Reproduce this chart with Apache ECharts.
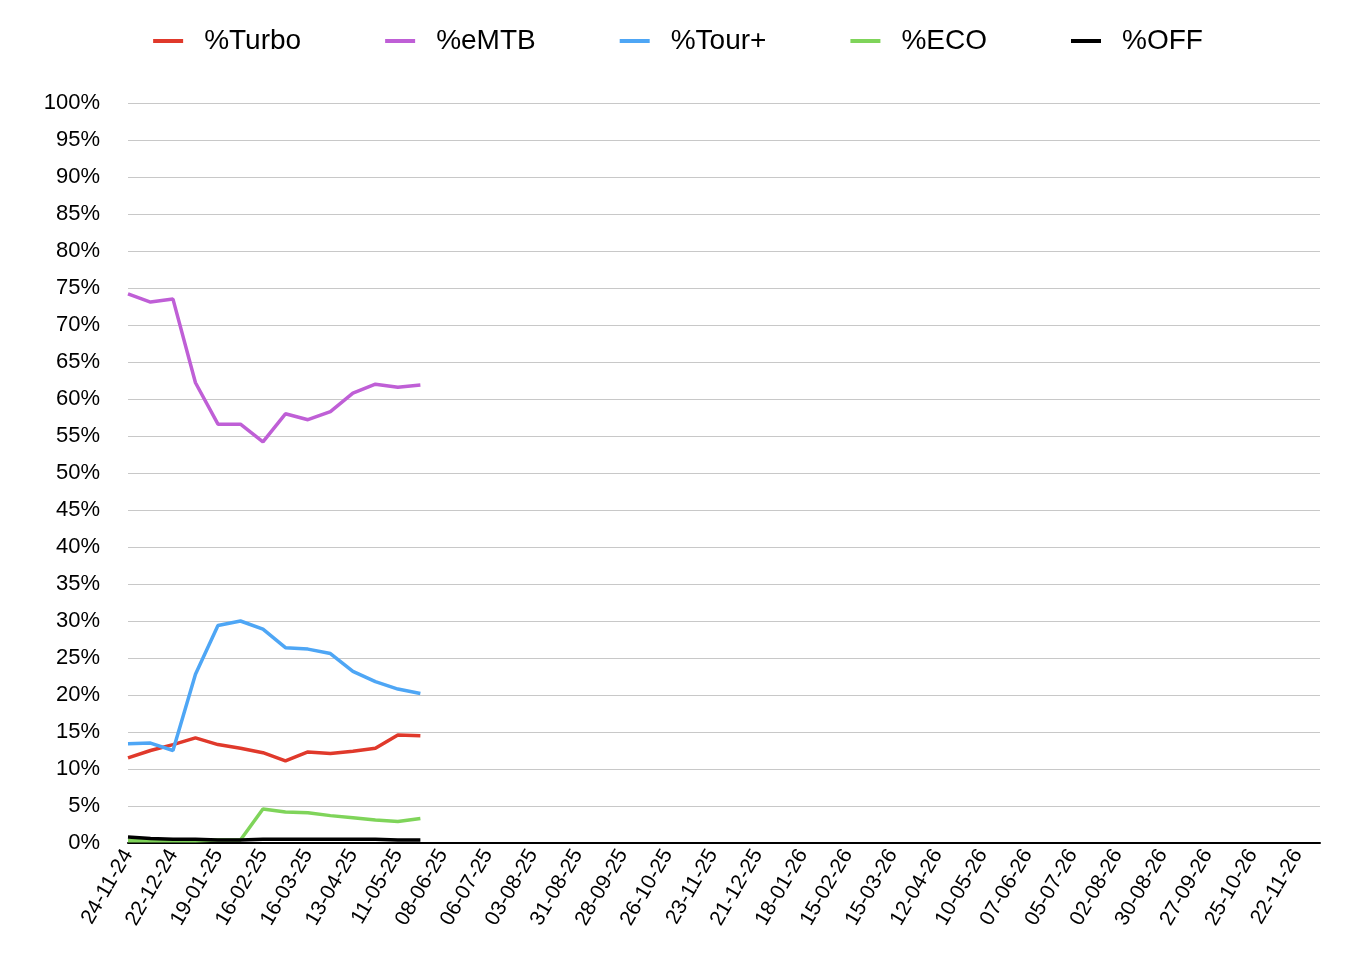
<!DOCTYPE html>
<html><head><meta charset="utf-8">
<script src="https://cdn.jsdelivr.net/npm/echarts@6/dist/echarts.min.js"></script>
<style>html,body{margin:0;background:#fff}#c{width:1356px;height:980px}</style>
</head><body><div id="c"></div>
<script>
// biweekly dates from 24-11-24, 54 categories
var dates = [];
var d0 = new Date(Date.UTC(2024, 10, 24));
for (var i = 0; i < 54; i++) {
  var d = new Date(d0.getTime() + i * 14 * 86400000);
  var p = function (n) { return (n < 10 ? '0' : '') + n; };
  dates.push(p(d.getUTCDate()) + '-' + p(d.getUTCMonth() + 1) + '-' + p(d.getUTCFullYear() % 100));
}
var turbo = [11.5, 12.5, 13.3, 14.2, 13.3, 12.8, 12.2, 11.1, 12.3, 12.1, 12.4, 12.8, 14.6, 14.5];
var emtb = [74.2, 73.1, 73.5, 62.2, 56.6, 56.6, 54.2, 58.0, 57.2, 58.3, 60.8, 62.0, 61.6, 61.9];
var tour = [13.4, 13.5, 12.5, 22.8, 29.4, 30.0, 28.9, 26.4, 26.2, 25.6, 23.2, 21.8, 20.8, 20.2];
var eco = [0.3, 0.3, 0.3, 0.3, 0.4, 0.4, 4.6, 4.2, 4.1, 3.7, 3.4, 3.1, 2.9, 3.3];
var off = [0.8, 0.6, 0.5, 0.5, 0.4, 0.4, 0.5, 0.5, 0.5, 0.5, 0.5, 0.5, 0.4, 0.4];

var chart = echarts.init(document.getElementById('c'));
function s(name, data, color) {
  return { name: name, type: 'line', data: data, showSymbol: false, symbol: 'none',
    lineStyle: { width: 3.5, color: color }, itemStyle: { color: color } };
}
chart.setOption({
  animation: false,
  textStyle: { fontFamily: 'Helvetica, Arial, "Liberation Sans", sans-serif' },
  legend: {
    top: 22, itemGap: 84, itemWidth: 30, itemHeight: 4,
    icon: 'rect',
    textStyle: { fontSize: 28, color: '#000', padding: [0, 0, 0, 16] },
    data: ['%Turbo', '%eMTB', '%Tour+', '%ECO', '%OFF']
  },
  grid: { left: 128, right: 36, top: 103, bottom: 137 },
  xAxis: {
    type: 'category', data: dates, boundaryGap: false,
    axisLine: { lineStyle: { color: '#000', width: 2 } },
    axisTick: { show: false },
    axisLabel: { interval: 1, rotate: 60, fontSize: 21, color: '#000', margin: 8 }
  },
  yAxis: {
    type: 'value', min: 0, max: 100, interval: 5,
    axisLabel: { formatter: '{value}%', fontSize: 22, color: '#000', margin: 28 },
    splitLine: { lineStyle: { color: '#c8c8c8', width: 1 } },
    axisLine: { show: false }, axisTick: { show: false }
  },
  series: [
    s('%Turbo', turbo, '#e0392b'),
    s('%eMTB', emtb, '#bf5fd6'),
    s('%Tour+', tour, '#4ea6f5'),
    s('%ECO', eco, '#7fd45a'),
    s('%OFF', off, '#000000')
  ]
});
</script></body></html>
